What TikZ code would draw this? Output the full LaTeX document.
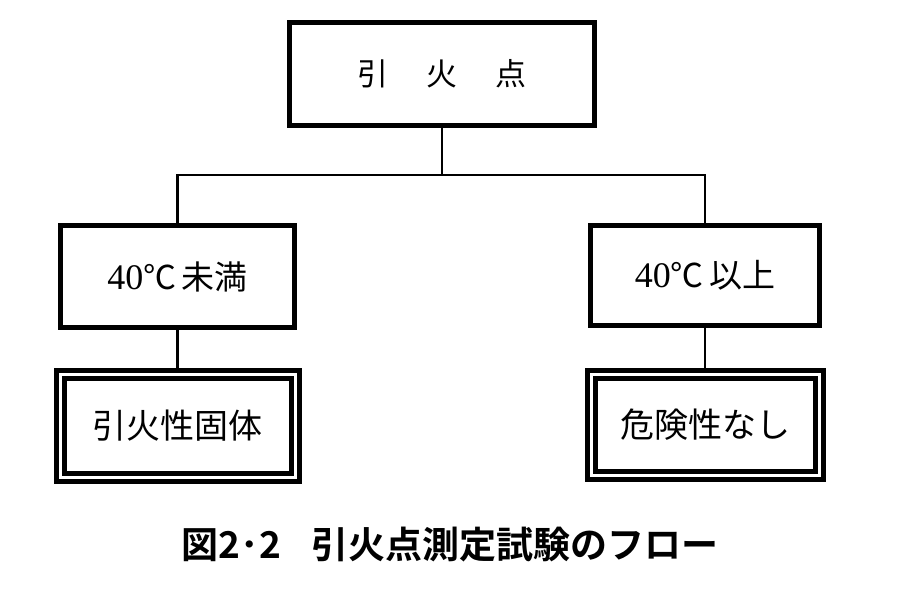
\documentclass[tikz,border=0pt]{standalone}
\usepackage{fontspec}
\setmainfont{Noto Sans CJK JP}
\newfontfamily\jpfont{Noto Sans CJK JP}
\newfontfamily\jpbold{Noto Sans CJK JP}[BoldFont={* Bold}]
\newfontfamily\numfont{Liberation Serif}
\begin{document}
\begin{tikzpicture}[x=1pt,y=-1pt,
  box/.style={draw, line width=4.5pt, inner sep=0pt, minimum width=#1, minimum height=102pt,
    font=\fontsize{33}{33}\jpfont},
  dbox/.style={draw, line width=5pt, double, double distance=3pt, inner sep=0pt,
    minimum width=#1, minimum height=103pt, font=\fontsize{34}{34}\jpfont},
  conn/.style={line width=2.5pt}]
\fill[white] (0,0) rectangle (900,594);
\useasboundingbox (0,0) rectangle (900,594);
\node[box=305pt, minimum height=103pt, font=\fontsize{31}{31}\jpfont] (top) at (442,74) {引\hspace{38pt}火\hspace{38pt}点};
\node[box=234pt] (m1) at (177.5,276.5) {{\fontsize{36}{36}\numfont 40}℃\,未満};
\node[box=229pt, minimum height=100pt] (m2) at (705,275.5) {{\fontsize{36}{36}\numfont 40}℃\,以上};
\node[dbox=235pt] (b1) at (177.5,426) {引火性固体};
\node[dbox=228pt, minimum height=101pt] (b2) at (705,424.5) {危険性なし};
\coordinate (j) at (442,175);
\draw[conn] (top.south) -- (j);
\draw[conn] (m1.north) |- (j) -| (m2.north);
\draw[conn] (m1.south) -- (b1.north);
\draw[conn] (m2.south) -- (b2.north);
\node[font=\fontsize{37}{37}\jpbold\bfseries] (cap) at (450,545) {図2･2\hspace{30pt}引火点測定試験のフロー};
\end{tikzpicture}
\end{document}
